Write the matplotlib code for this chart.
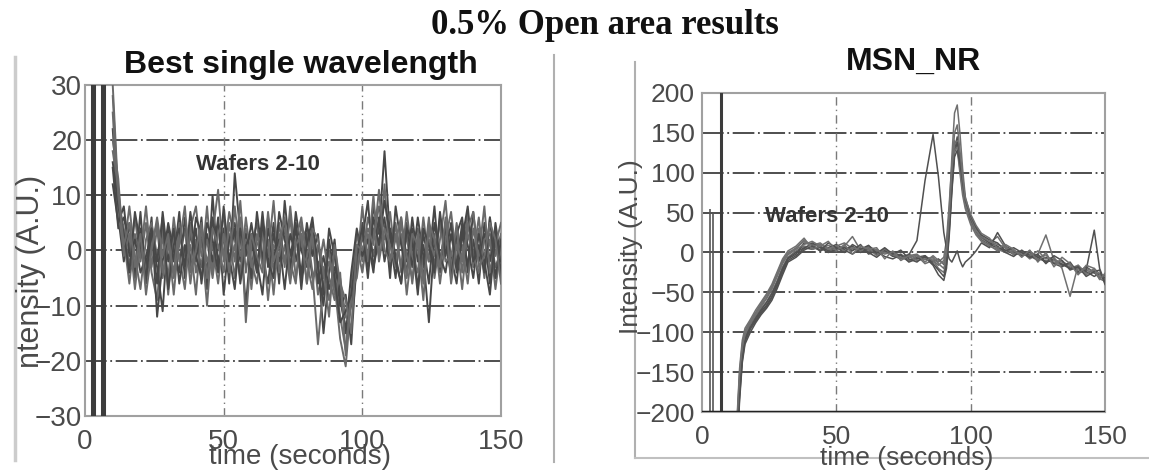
import numpy as np
import matplotlib
matplotlib.use("Agg")
import matplotlib.pyplot as plt
from matplotlib.lines import Line2D

plt.rcParams['font.family'] = ['Liberation Sans', 'DejaVu Sans']

# ---- left panel: best single wavelength, wafers sampled every 2 s ----
t_left = list(range(10, 151, 2))

wafer_a = [28, 9, 4, -3, 6, -2, 5, -4, -9, 3, -5, 6, -2, 4, -6, 2, -3, 8, -4, 5, -1, 7, 2, -5, 4, -7, 3, -2, 6, -4,
           5, -3, 8, -2, 3, -6, 2, -8, -3, -9, -4, -12, -18, -6, 3, -2, 6, 2, 8, 4, -3, 5, -4, 3, -6, 2, -5, 4, -3, 6,
           1, -4, 5, -2, 7, -3, 4, -5, 6, -1, 3]
wafer_b = [22, 6, -2, 5, -4, 7, -6, 2, -3, -11, 4, -2, 7, -5, 3, -2, 6, -7, 10, -3, 4, -6, 14, 3, -10, 2, -4, 7, -3, 5,
           -6, 9, -1, 4, -7, 3, -5, -2, -15, -4, 2, -9, -14, -10, -2, 5, -3, 8, 3, 18, 2, -5, 6, -2, 4, -7, 3, -2, 8, -4,
           5, -1, -6, 4, -3, 7, -2, 3, -6, 5, -2]
wafer_c = [18, 11, 2, -6, 3, -1, 8, -3, 4, -5, 2, -8, 3, -1, 5, -4, 2, -10, 3, 11, -2, 3, -5, 6, -13, 1, 5, -3, 2, -8,
           3, -2, 6, -5, 2, 4, -4, -17, -6, -2, -6, -16, -21, -9, 1, -4, 3, -1, 5, 2, 7, -2, 3, -8, 1, 4, -3, 6, -5, 2,
           9, -3, 2, -7, 3, -1, 6, -3, 2, -7, 1]
wafer_d = [15, 4, 6, 1, -5, 4, -3, 6, -12, -2, 5, 0, -4, 6, -2, 4, -6, 3, -2, 6, -8, 2, 5, -2, 3, -5, 7, -1, -6, 3,
           -2, 5, -4, 7, 0, -3, 5, -6, -1, -7, -3, -7, -15, -4, 4, -1, 2, -4, 6, -2, 4, -1, -6, 5, -3, 6, -1, -13, 2, -2,
           4, -5, 3, 6, -4, 2, -6, 5, -2, 4, -4]
wafer_e = [25, 7, 0, 8, -1, -7, 2, 5, -1, 4, -8, 3, -1, -7, 4, 8, -1, 2, -5, 3, 6, -3, 1, -4, 6, -2, -6, 4, -1, 9,
           -4, 1, -6, 2, 6, -2, -7, 1, -5, 0, -8, -5, -12, -14, -3, 8, -2, 4, -1, 12, -2, 3, -3, 7, -1, -4, 6, -2, 3, -6,
           2, 7, -2, 1, -6, 4, -1, 8, -4, 1, 5]
wafer_f = [12, 5, 8, -1, 2, -4, -1, 3, -6, 7, -2, 4, -6, 1, -3, 6, 3, -4, 6, -2, 2, -1, -7, 4, -1, 5, -2, -8, 4, -1,
           2, -7, 3, -1, -4, 5, -1, 3, -8, 4, -1, -10, -8, -17, -1, 2, 9, -3, 2, 6, -5, 8, 1, -4, 6, -2, 1, -6, 5, -1,
           -4, 3, -3, 5, 1, -5, 3, -2, -8, 3, -5]
wafer_g = [20, 13, -1, 3, -7, 2, -4, 1, 5, -4, 1, -4, 5, -3, 1, -8, 4, -2, 1, -6, 3, -4, 8, -1, 2, -3, 1, 3, -9, 1,
           -1, 4, -2, -6, 5, -1, 3, -4, 2, -5, -9, -4, -19, -7, -5, 3, -1, 10, -2, 4, 1, -3, 5, -1, -5, 3, -6, 2, -1, 5,
           -2, -1, 4, -4, 5, -1, -4, 2, 3, -3, 0]
wafer_h = [16, 8, 3, -4, 7, 1, -5, 4, -2, 6, -7, 1, 4, -3, 7, -1, -5, 5, 2, -4, 8, -2, 4, -6, 1, 3, -4, 5, -2, -5,
           7, 2, -3, 5, -5, 1, 6, -3, -10, 2, -5, -13, -11, -8, 0, 4, -5, 6, 1, 9, 3, -2, -6, 4, 2, -8, 4, 1, -4, 7,
           -1, 5, -4, 2, 8, -2, 1, -4, 6, -5, 2]
wafer_i = [30, 10, 1, 5, -3, 3, -8, 0, 6, -1, 3, -5, 1, 8, -4, 0, 5, -5, 4, 1, -4, 5, -2, 9, -4, 3, -1, -4, 7, -2,
           1, 6, -5, 1, 3, -6, 4, 2, -4, -12, 1, -6, -9, -15, 1, 0, 4, 1, 11, 0, -2, 2, 6, -5, 3, 1, -9, 5, 2, -3,
           6, -6, 1, -2, 4, 7, -3, -1, 5, 2, -6]
left_wafers = [wafer_a, wafer_b, wafer_c, wafer_d, wafer_e, wafer_f, wafer_g, wafer_h, wafer_i]
# start-up transients that run off the scale
left_spike_t = [2.5, 3.3, 6.0, 6.7]

# ---- right panel: MSN_NR ----
t_right = [13, 14, 15, 16, 18, 20, 22, 24, 26, 28, 30, 32, 35, 38, 41, 44, 47, 50, 53, 56, 59, 62, 65, 68, 71, 74,
           77, 80, 83, 86, 88, 90, 91, 92, 93, 94, 95, 96, 97, 98, 100, 102, 104, 107, 110, 113, 116, 119, 122, 125,
           128, 131, 134, 137, 140, 143, 146, 148, 150]

msn_1 = [-230, -165, -125, -105, -90, -80, -70, -62, -50, -35, -18, -6, 2, 8, 6, 4, 9, 5, 7, 3, 6, 2, 4, -2, 1, -4,
         -6, -3, -9, -8, -12, -6, 15, 60, 110, 140, 130, 100, 72, 55, 35, 22, 14, 8, 4, 0, 2, -4, -2, -8, -10, -12,
         -14, -18, -20, -22, -26, -28, -30]
msn_2 = [-240, -175, -130, -110, -95, -84, -74, -66, -55, -40, -22, -8, -2, 12, 10, 2, 6, 10, 4, 8, 0, 5, -3, 3, -5,
         -2, -10, -6, -4, -12, -8, -15, -2, 30, 85, 130, 145, 120, 85, 62, 40, 26, 16, 10, 6, 3, -2, 0, -6, -4, -12,
         -9, -16, -14, -24, -18, -25, -32, -28]
msn_3 = [-220, -155, -118, -100, -88, -78, -68, -58, -46, -30, -14, -3, 4, 10, 14, 8, 3, 8, 12, 5, 2, 7, 0, 4, -3,
         -6, -2, -8, -5, -10, -16, -10, 5, 50, 120, 175, 185, 150, 105, 70, 45, 28, 18, 12, 20, 5, -1, -3, 2, -6, -3,
         -14, -10, -20, -16, -26, -22, -30, -34]
msn_4 = [-235, -170, -128, -108, -93, -82, -72, -63, -52, -37, -20, -7, 0, 6, 4, 7, 2, 6, 3, -2, 5, 0, -6, 2, -4,
         -8, -3, 15, 90, 148, 95, 25, 5, -8, -12, -5, 2, -10, -18, -12, -6, 2, 12, 6, 25, 8, 2, -4, 0, -6, -12, -8,
         -15, -20, -18, -24, -30, -26, -32]
msn_5 = [-225, -160, -122, -102, -88, -76, -66, -57, -44, -28, -12, -2, 6, 14, 9, 12, 4, 2, 8, 20, 3, 6, -4, 5, -2,
         -6, -10, -4, -14, -10, -20, -25, -10, 35, 95, 135, 140, 110, 80, 58, 38, 24, 15, 9, 2, 8, -3, 1, -8, -2, 22,
         -10, -12, -16, -22, -20, -24, -33, -36]
msn_6 = [-245, -180, -135, -112, -96, -86, -76, -68, -57, -42, -25, -10, -4, 5, 12, 6, 0, 4, 6, 2, 10, -2, 2, -5, -8,
         -3, -12, -8, -6, -16, -28, -35, -20, 20, 75, 125, 138, 115, 90, 65, 42, 30, 20, 12, 8, 0, -5, 3, -4, -10, -6,
         -14, -18, -12, -26, -22, 28, -20, -38]
msn_7 = [-215, -150, -115, -98, -86, -75, -64, -54, -42, -26, -10, 0, 5, 16, 8, 10, 5, 8, 2, 6, 4, 8, 2, 0, -3, -7,
         -5, -10, -8, -6, -14, -20, -5, 42, 100, 128, 132, 105, 78, 60, 44, 28, 20, 14, 10, 6, 2, -2, -5, 2, -8, -6,
         -20, -55, -16, -28, -20, -27, -30]
msn_8 = [-250, -185, -138, -115, -100, -88, -78, -70, -60, -45, -28, -12, -6, 3, 8, 2, 12, 6, 0, 10, 4, 9, -1, 6, -2,
         3, -8, -12, -4, -14, -22, -30, -15, 25, 80, 120, 128, 112, 88, 66, 46, 32, 22, 16, 12, 2, 6, 0, -6, -2, -14,
         -4, -10, -22, -18, -30, -24, -22, -40]
msn_9 = [-210, -145, -110, -95, -84, -72, -62, -52, -40, -24, -8, 2, 8, 18, 4, 8, 14, 2, 10, -2, 8, 4, 6, -8, 2,
         -10, -4, -2, -12, -4, -10, -14, 0, 45, 105, 150, 160, 128, 95, 68, 48, 34, 24, 18, 5, 10, 4, -6, 3, -12, 0,
         -18, -6, -14, -28, -16, -20, -34, -26]
right_wafers = [msn_1, msn_2, msn_3, msn_4, msn_5, msn_6, msn_7, msn_8, msn_9]
right_spike_t = [7.0]
right_early_t = [3.0, 4.1]
right_early_top = [55, 50]

tick_col = '#4a4a4a'

fig = plt.figure(figsize=(11.49, 4.73), dpi=100)
fig.patch.set_facecolor('white')

ax1 = fig.add_axes([85 / 1149, 1 - 416 / 473, 416 / 1149, 331 / 473])
ax2 = fig.add_axes([702 / 1149, 1 - 412 / 473, 403 / 1149, 319 / 473])


def style_axes(ax, yticks, size):
    ax.set_xlim(0, 150)
    ax.set_ylim(yticks[0], yticks[-1])
    ax.set_xticks([0, 50, 100, 150])
    ax.set_yticks(yticks)
    for y in yticks[1:-1]:
        ax.axhline(y, color='#404040', lw=1.3, ls=(0, (12, 2, 1, 2)), zorder=1)
    for x in [50, 100]:
        ax.axvline(x, color='#7a7a7a', lw=1.0, ls=(0, (6, 3, 1, 3)), zorder=1)
    ax.tick_params(length=0, labelsize=size, labelcolor=tick_col)
    for s in ax.spines.values():
        s.set_color('#a0a0a0')
        s.set_linewidth(1.5)


style_axes(ax1, [-30, -20, -10, 0, 10, 20, 30], 20)
ax1.tick_params(axis='x', pad=9)
ax1.tick_params(axis='y', pad=2)
for k, w in enumerate(left_wafers):
    ax1.plot(t_left, w, color='#474747' if k % 2 else '#6a6a6a', lw=1.4, zorder=3)
for x in left_spike_t:
    ax1.axvline(x, color='#3c3c3c', lw=2.2, zorder=3)
ax1.text(40, 15.5, 'Wafers 2-10', fontsize=16, fontweight='bold', color='#333333', va='center', ha='left')

style_axes(ax2, [-200, -150, -100, -50, 0, 50, 100, 150, 200], 19)
ax2.axhline(-200, color='#222222', lw=2.5, zorder=4)
ax2.tick_params(axis='x', pad=9)
ax2.tick_params(axis='y', pad=5)
for k, w in enumerate(right_wafers):
    ax2.plot(t_right, w, color='#505050' if k % 2 else '#707070', lw=1.1, zorder=3)
for x in right_spike_t:
    ax2.axvline(x, color='#3c3c3c', lw=2.2, zorder=3)
ax2.vlines(right_early_t, -200, right_early_top, color='#555555', lw=1.2, zorder=3)
ax2.text(23.4, 45, 'Wafers 2-10', fontsize=16, fontweight='bold', color='#333333', va='center', ha='left')

# axis labels and titles placed like the slide
fig.text(301 / 1149, 1 - 65 / 473, 'Best single wavelength', fontsize=23, fontweight='bold',
         ha='center', va='center', color='#111111')
fig.text(913 / 1149, 1 - 62 / 473, 'MSN_NR', fontsize=23, fontweight='bold',
         ha='center', va='center', color='#111111')
fig.text(300 / 1149, 1 - 457 / 473, 'time (seconds)', fontsize=20, ha='center', va='center', color=tick_col)
fig.text(907 / 1149, 1 - 458 / 473, 'time (seconds)', fontsize=19, ha='center', va='center', color=tick_col)
fig.text(31 / 1149, 1 - 271 / 473, 'ntensity (A.U.)', fontsize=22, rotation=90,
         ha='center', va='center', color=tick_col)
fig.text(631 / 1149, 1 - 247 / 473, 'Intensity (A.U.)', fontsize=19, rotation=90,
         ha='center', va='center', color=tick_col)
fig.text(605 / 1149, 1 - 34 / 473, '0.5% Open area results', fontsize=25, fontweight='bold',
         family='Liberation Serif', ha='center', va='baseline', color='#111111')

# slide frame edges
fig.add_artist(Line2D([15 / 1149, 15 / 1149], [1 - 57 / 473, 1 - 460 / 473], color='#cccccc', lw=2.5))
fig.add_artist(Line2D([554 / 1149, 554 / 1149], [1 - 55 / 473, 1 - 462 / 473], color='#b0b0b0', lw=1.5))
fig.add_artist(Line2D([635 / 1149, 635 / 1149], [1 - 62 / 473, 1 - 458 / 473], color='#b0b0b0', lw=1.5))
fig.add_artist(Line2D([635 / 1149, 1.0], [1 - 458 / 473, 1 - 458 / 473], color='#c0c0c0', lw=1.5))

fig.savefig('out.png', dpi=100)
